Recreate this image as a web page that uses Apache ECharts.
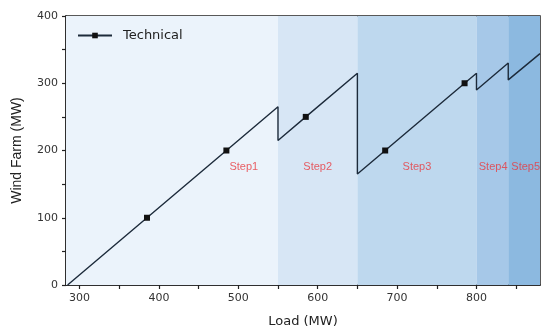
<!DOCTYPE html>
<html>
<head>
<meta charset="utf-8">
<script src="https://cdn.jsdelivr.net/npm/echarts@6/dist/echarts.min.js"></script>
<style>html,body{margin:0;padding:0;background:#fff;}#c{width:550px;height:335px;}</style>
</head>
<body>
<div id="c"></div>
<script>
// Data
var lineX = [285, 385, 485, 550, 550, 585, 650, 650, 685, 785, 800, 800, 840, 840, 880];
var lineY = [0, 100, 200, 265, 215, 250, 315, 165, 200, 300, 315, 290, 330, 305, 344];
var markerFlags = [0, 1, 1, 0, 0, 1, 0, 0, 1, 1, 0, 0, 0, 0, 0];
var stepBounds = [283, 550, 650, 800, 840, 880];
var stepColors = ['#ebf3fb', '#d7e6f5', '#bed8ee', '#a6c8e8', '#8cb9e0'];
var stepNames = ['Step1', 'Step2', 'Step3', 'Step4', 'Step5'];
var stepLabelX = [507, 600, 725, 821, 862];
var stepLabelY = [175, 175, 175, 175, 175];
var xTickLabels = [300, 400, 500, 600, 700, 800];
var xTicks = [300, 350, 400, 450, 500, 550, 600, 650, 700, 750, 800, 850];

var lineData = lineX.map(function (x, i) {
  return markerFlags[i] ? { value: [x, lineY[i]] } : { value: [x, lineY[i]], symbol: 'none' };
});
var areas = [];
for (var i = 0; i < stepNames.length; i++) {
  areas.push([{ xAxis: stepBounds[i], itemStyle: { color: stepColors[i] } }, { xAxis: stepBounds[i + 1] }]);
}
var labelData = stepNames.map(function (n, i) { return { name: n, value: [stepLabelX[i], stepLabelY[i]] }; });

var chart = echarts.init(document.getElementById('c'), null, { renderer: 'canvas' });
chart.setOption({
  animation: false,
  backgroundColor: '#fff',
  grid: { left: 66, right: 10, top: 16, bottom: 50, show: true, borderColor: '#222', borderWidth: 1.5, backgroundColor: 'transparent' },
  legend: {
    left: 72, top: 24, itemWidth: 34, itemHeight: 7,
    data: ['Technical'],
    textStyle: { fontFamily: 'DejaVu Sans', fontSize: 13, color: '#222', padding: [0, 0, 0, 6] }
  },
  xAxis: {
    type: 'value', min: 283, max: 880,
    name: 'Load (MW)', nameLocation: 'middle', nameGap: 30,
    nameTextStyle: { fontFamily: 'DejaVu Sans', fontSize: 13, color: '#222' },
    axisLine: { lineStyle: { color: '#222', width: 1.5 } },
    axisTick: { show: true, length: 4, customValues: xTicks, lineStyle: { color: '#222', width: 1.2 } },
    axisLabel: { customValues: xTickLabels, fontFamily: 'DejaVu Sans', fontSize: 11, color: '#333', margin: 8 },
    splitLine: { show: false }
  },
  yAxis: {
    type: 'value', min: 0, max: 400, interval: 100,
    name: 'Wind Farm (MW)', nameLocation: 'middle', nameGap: 42,
    nameTextStyle: { fontFamily: 'Liberation Sans', fontSize: 14, color: '#222' },
    axisLine: { show: true, lineStyle: { color: '#222', width: 1.5 } },
    axisTick: { show: true, length: 4, lineStyle: { color: '#222', width: 1.2 } },
    minorTick: { show: true, splitNumber: 2, length: 4, lineStyle: { color: '#222', width: 1.2 } },
    axisLabel: { fontFamily: 'DejaVu Sans', fontSize: 11, color: '#333', margin: 8 },
    splitLine: { show: false }
  },
  series: [
    {
      name: 'Technical', type: 'line', data: lineData,
      symbol: 'rect', symbolSize: 6, showSymbol: true,
      lineStyle: { color: '#1c2a3a', width: 1.4 },
      itemStyle: { color: '#111' },
      z: 5,
      markArea: { silent: true, data: areas }
    },
    {
      name: 'labels', type: 'scatter', data: labelData, symbolSize: 0,
      label: { show: true, formatter: '{b}', position: 'inside', color: '#e8383d', fontFamily: 'Liberation Sans', fontSize: 11 },
      z: 4
    }
  ]
});
</script>
</body>
</html>
